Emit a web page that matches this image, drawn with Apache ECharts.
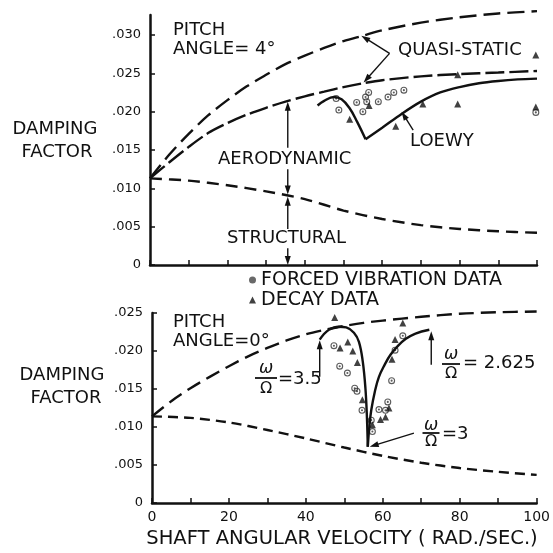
<!DOCTYPE html>
<html><head><meta charset="utf-8">
<script src="https://cdn.jsdelivr.net/npm/echarts@6/dist/echarts.min.js"></script>
<style>html,body{margin:0;padding:0;background:#fff}#c{width:553px;height:553px}</style>
</head><body><div id="c"></div>
<script>
// ---------- DATA ----------
const xTickValues = [0,10,20,30,40,50,60,70,80,90,100];
const xLabelValues = [0,20,40,60,80,100];
const yTicksTop = [0,0.005,0.010,0.015,0.020,0.025,0.030];
const yTicksBottom = [0,0.005,0.010,0.015,0.020,0.025];

// Top panel (pitch angle 4°)
const topQuasiUpper = [[0,0.0113],[5,0.0144],[10,0.0171],[15,0.0195],[20,0.0215],[25,0.0233],[30,0.0248],[35,0.0262],[40,0.0273],[45,0.0283],[50,0.0292],[55,0.0299],[60,0.0306],[70,0.0316],[80,0.0323],[90,0.0328],[100,0.0331]];
const topQuasiLower = [[0,0.0113],[5,0.0134],[10,0.0154],[15,0.0172],[20,0.0185],[25,0.0196],[30,0.0205],[35,0.0213],[40,0.0220],[45,0.0226],[50,0.0232],[55,0.0237],[60,0.0241],[70,0.0246],[80,0.0249],[90,0.0251],[100,0.0253]];
const topLoewyLeft = [[43.3,0.0208],[45,0.0214],[47.5,0.0219],[49.5,0.0216],[51.5,0.0205],[53.5,0.0187],[55.7,0.0164]];
const topLoewyRight = [[55.7,0.0164],[60,0.0179],[65,0.0197],[70,0.0213],[75,0.0225],[80,0.0232],[85,0.0237],[90,0.0240],[95,0.0242],[100,0.0243]];
const topStructural = [[0,0.0113],[10,0.0110],[20,0.0104],[30,0.0096],[40,0.0086],[50,0.0071],[60,0.0060],[70,0.0052],[80,0.0047],[90,0.0044],[100,0.0042]];
const topForced = [[48.1,0.0217],[48.8,0.0202],[53.4,0.0212],[55.0,0.0200],[55.7,0.0219],[56.0,0.0213],[56.5,0.0225],[59.0,0.0213],[61.5,0.0219],[63.0,0.0225],[65.6,0.0228],[99.7,0.0199]];
const topDecay = [[51.6,0.0190],[56.6,0.0208],[63.5,0.0181],[70.5,0.0210],[79.5,0.0210],[79.5,0.0248],[99.7,0.0206],[99.7,0.0274]];

// Bottom panel (pitch angle 0°)
const botQuasi = [[0,0.0114],[5,0.0134],[10,0.0151],[15,0.0166],[20,0.0180],[25,0.0193],[30,0.0204],[35,0.0214],[40,0.0222],[45,0.0228],[50,0.0233],[55,0.0237],[60,0.0240],[70,0.0245],[80,0.0249],[90,0.0251],[100,0.0252]];
const botStructural = [[0,0.0114],[10,0.0112],[20,0.0106],[30,0.0096],[40,0.0085],[50,0.0073],[60,0.0062],[70,0.0053],[80,0.0046],[90,0.0041],[100,0.0037]];
const botArc35 = [[43.6,0.0215],[44.5,0.0221],[46,0.0228],[48.5,0.0232],[50.5,0.0231],[52.5,0.0224],[53.8,0.0212],[54.8,0.0186],[55.5,0.0150],[55.9,0.0110],[56.1,0.0074]];
const botArc2625 = [[56.1,0.0074],[56.5,0.0100],[57,0.0122],[58,0.0148],[59,0.0166],[60.5,0.0182],[62,0.0195],[64,0.0207],[66,0.0216],[68.5,0.0223],[72.1,0.0228]];
const botForced = [[47.3,0.0207],[48.8,0.0180],[50.8,0.0171],[52.7,0.0151],[53.3,0.0147],[54.6,0.0122],[57.0,0.0109],[57.3,0.0094],[59.0,0.0123],[60.7,0.0122],[61.3,0.0133],[62.3,0.0161],[63.2,0.0201],[65.2,0.0220]];
const botDecay = [[47.5,0.0244],[48.9,0.0204],[50.9,0.0212],[52.2,0.0200],[53.4,0.0185],[54.7,0.0136],[57.3,0.0103],[59.4,0.0110],[60.7,0.0113],[61.6,0.0125],[62.4,0.0189],[63.2,0.0215],[65.2,0.0237]];

// Annotation arrows, in data coordinates: [gridIndex, from, to]
const annotationArrows = [
  [0, [61.9,0.0276], [54.6,0.0299]],
  [0, [61.9,0.0276], [55.2,0.0238]],
  [0, [68.0,0.0176], [65.0,0.0200]],
  [0, [35.6,0.0153], [35.6,0.0213]],
  [0, [35.6,0.0125], [35.6,0.0092]],
  [0, [35.6,0.0047], [35.6,0.0089]],
  [0, [35.6,0.0022], [35.6,0.0000]],
  [1, [43.6,0.0166], [43.6,0.0214]],
  [1, [72.6,0.0182], [72.6,0.0226]],
  [1, [68.1,0.0092], [56.6,0.0074]]
];

// ---------- CHART ----------
const INK = '#111';
const FONT = 'DejaVu Sans';
const RING = 'path://M10,0A10,10,0,1,1,10,20A10,10,0,1,1,10,0ZM10,3.2A6.8,6.8,0,1,0,10,16.8A6.8,6.8,0,1,0,10,3.2ZM10,7A3,3,0,1,1,10,13A3,3,0,1,1,10,7Z';

function yFmt(v){ if (Math.abs(v) < 1e-9) return '0'; return '.' + String(Math.round(v*1000)).padStart(3,'0'); }

function xAxis(gi, showLabels){
  return {gridIndex: gi, type:'value', min:0, max:100,
    axisLine:{show:true, onZero:false, lineStyle:{color:INK, width:2.5}},
    axisTick:{show:true, inside:true, length:5, customValues:xTickValues, lineStyle:{color:INK, width:1.5}},
    axisLabel:{show:showLabels, customValues:xLabelValues, color:INK, fontSize:14, fontFamily:FONT, margin:7},
    splitLine:{show:false}};
}
function yAxis(gi, max, ticks){
  return {gridIndex: gi, type:'value', min:0, max:max,
    axisLine:{show:true, onZero:false, lineStyle:{color:INK, width:2.5}},
    axisTick:{show:true, inside:true, length:5, customValues:ticks, lineStyle:{color:INK, width:1.5}},
    axisLabel:{customValues:ticks, formatter:yFmt, color:INK, fontSize:13, fontFamily:FONT, margin:9},
    splitLine:{show:false}};
}
function curve(gi, data, dash, smooth){
  return {type:'line', xAxisIndex:gi, yAxisIndex:gi, data:data, showSymbol:false, symbol:'none',
    smooth: smooth === undefined ? 0.3 : smooth, clip:false, silent:true,
    lineStyle:{color:INK, width:2.4, type: dash || 'solid'}};
}

const chart = echarts.init(document.getElementById('c'), null, {renderer:'canvas'});

function txt(x, y, s, size, align, italic){
  return {type:'text', x:x, y:y, silent:true,
    style:{text:s, fill:INK, font:(italic?'italic ':'') + (size||18) + 'px "' + FONT + '"', textAlign:align||'left', textVerticalAlign:'middle'}};
}
function frac(cx, yTop, yBar, yBot, w){
  return [
    txt(cx, yTop, 'ω', 17, 'center', true),
    {type:'line', silent:true, shape:{x1:cx-w/2, y1:yBar, x2:cx+w/2, y2:yBar}, style:{stroke:INK, lineWidth:1.8}},
    txt(cx, yBot, 'Ω', 16, 'center')
  ];
}

const option = {
  animation:false,
  backgroundColor:'#fff',
  grid:[
    {left:150, right:16, top:15, height:250},
    {left:152, right:15, top:313, height:190}
  ],
  xAxis:[xAxis(0,false), xAxis(1,true)],
  yAxis:[yAxis(0,0.0326,yTicksTop), yAxis(1,0.025,yTicksBottom)],
  legend:{orient:'vertical', left:249, top:270, itemWidth:7, itemHeight:7, itemGap:0, padding:0,
    selectedMode:false,
    textStyle:{color:INK, fontSize:19, fontFamily:FONT, lineHeight:20},
    data:[{name:'FORCED VIBRATION DATA', icon:'circle', itemStyle:{color:'#444'}},{name:'DECAY DATA', icon:'triangle'}]},
  series:[
    curve(0, topQuasiUpper, [17,7]),
    curve(0, topQuasiLower, [19,5]),
    curve(0, topLoewyLeft, 'solid', 0.4),
    curve(0, topLoewyRight, 'solid', 0.3),
    curve(0, topStructural, [12,7]),
    {name:'FORCED VIBRATION DATA', type:'scatter', xAxisIndex:0, yAxisIndex:0, data:topForced, symbol:RING, symbolSize:7, itemStyle:{color:'#333'}, silent:true},
    {name:'DECAY DATA', type:'scatter', xAxisIndex:0, yAxisIndex:0, data:topDecay, symbol:'triangle', symbolSize:7, itemStyle:{color:INK}, silent:true},
    curve(1, botQuasi, [15,7]),
    curve(1, botStructural, [10,6]),
    curve(1, botArc35, 'solid', 0.4),
    curve(1, botArc2625, 'solid', 0.4),
    {name:'FORCED VIBRATION DATA', type:'scatter', xAxisIndex:1, yAxisIndex:1, data:botForced, symbol:RING, symbolSize:7, itemStyle:{color:'#333'}, silent:true},
    {name:'DECAY DATA', type:'scatter', xAxisIndex:1, yAxisIndex:1, data:botDecay, symbol:'triangle', symbolSize:7, itemStyle:{color:INK}, silent:true}
  ]
};
chart.setOption(option);

function arrowEls(p0, p1){
  const dx = p1[0]-p0[0], dy = p1[1]-p0[1], L = Math.hypot(dx, dy);
  const ux = dx/L, uy = dy/L, len = 9, hw = 3;
  const bx = p1[0]-ux*len, by = p1[1]-uy*len;
  return [
    {type:'line', silent:true, shape:{x1:p0[0], y1:p0[1], x2:bx+ux, y2:by+uy}, style:{stroke:INK, lineWidth:1.4}},
    {type:'polygon', silent:true, shape:{points:[[p1[0],p1[1]],[bx-uy*hw, by+ux*hw],[bx+uy*hw, by-ux*hw]]}, style:{fill:INK}}
  ];
}
let arrowGraphics = [];
annotationArrows.forEach(a => {
  const p0 = chart.convertToPixel({gridIndex:a[0]}, a[1]);
  const p1 = chart.convertToPixel({gridIndex:a[0]}, a[2]);
  arrowGraphics = arrowGraphics.concat(arrowEls(p0, p1));
});

chart.setOption({graphic: [].concat(
  [
    txt(55, 129, 'DAMPING', 18, 'center'),
    txt(57, 152, 'FACTOR', 18, 'center'),
    txt(62, 375, 'DAMPING', 18, 'center'),
    txt(66, 398, 'FACTOR', 18, 'center'),
    txt(173, 30, 'PITCH'),
    txt(173, 49, 'ANGLE= 4°'),
    txt(398, 50, 'QUASI-STATIC'),
    txt(410, 141, 'LOEWY'),
    txt(218, 159, 'AERODYNAMIC'),
    txt(227, 238, 'STRUCTURAL'),
    txt(173, 322, 'PITCH'),
    txt(173, 341, 'ANGLE=0°'),
    txt(278, 379, '=3.5', 18),
    txt(463, 363, '= 2.625', 18),
    txt(442, 434, '=3', 18),
    txt(342, 539, 'SHAFT ANGULAR VELOCITY ( RAD./SEC.)', 19.5, 'center')
  ],
  frac(266, 369, 378, 389, 22),
  frac(451, 355, 364, 374, 18),
  frac(431, 426, 433, 442, 17),
  arrowGraphics
)});
</script>
</body></html>
